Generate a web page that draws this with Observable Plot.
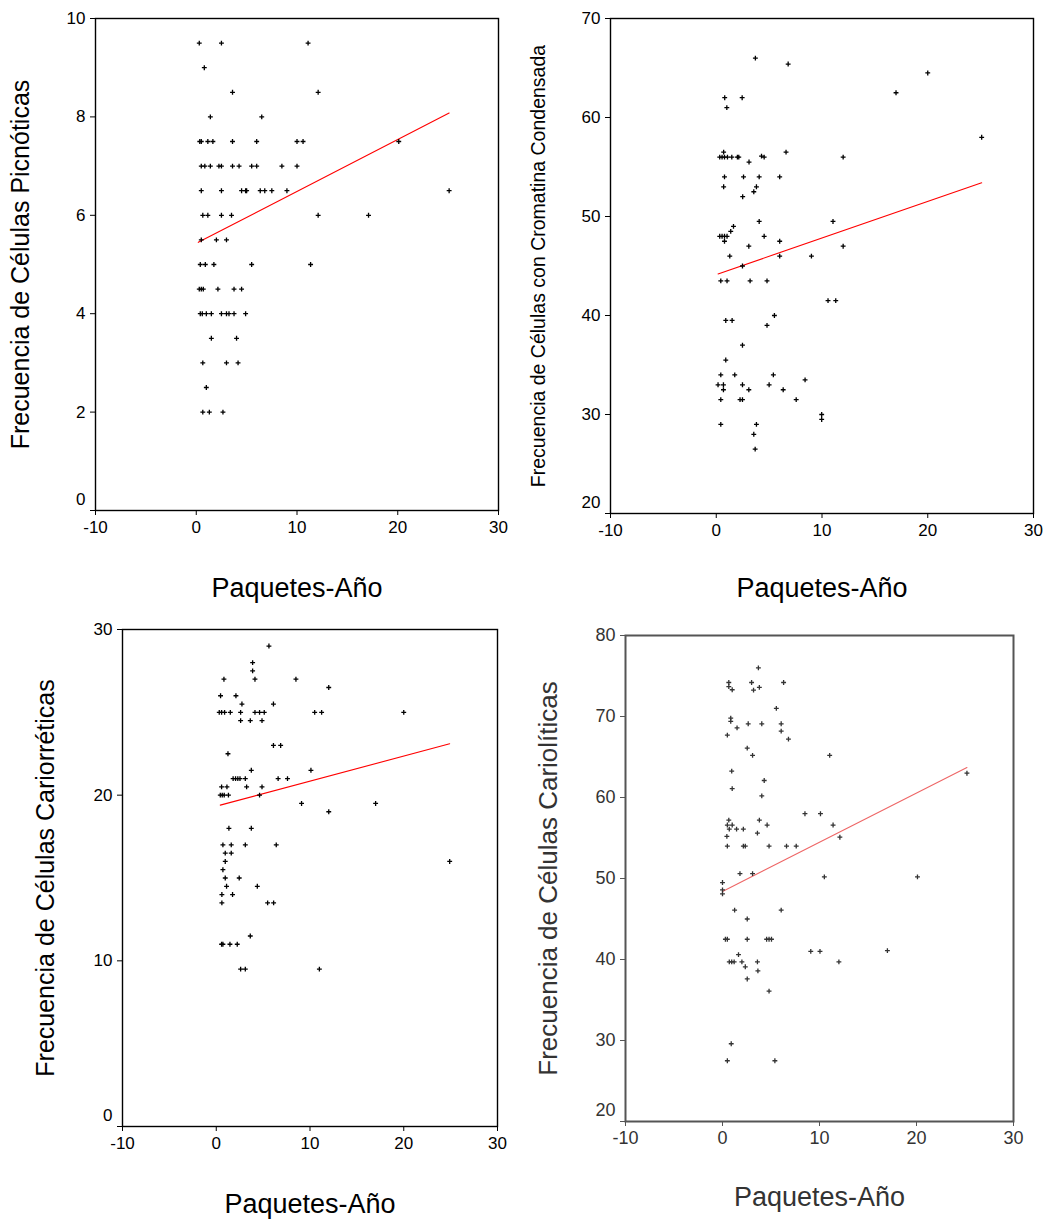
<!DOCTYPE html>
<html>
<head>
<meta charset="utf-8">
<script src="https://cdn.jsdelivr.net/npm/d3@7"></script>
<script src="https://cdn.jsdelivr.net/npm/@observablehq/plot@0.6"></script>
<style>
  html, body { margin: 0; padding: 0; background: #fff; }
  #wrap { position: relative; width: 1049px; height: 1220px; overflow: hidden; }
  #wrap > div { position: absolute; }
</style>
</head>
<body>
<div id="wrap">
  <div id="p1" style="left:0px;top:0px"></div>
  <div id="p2" style="left:525px;top:0px"></div>
  <div id="p3" style="left:0px;top:610px"></div>
  <div id="p4" style="left:525px;top:610px"></div>
</div>
<script>
// ---------- DATA ----------
const xLabel = "Paquetes-Año";
const xTicks = [-10, 0, 10, 20, 30];

// Panel 1: Células Picnóticas  [paquetes-año, frecuencia]
const picnoticasLabel = "Frecuencia de Células Picnóticas";
const picnoticasTicks = [0, 2, 4, 6, 8, 10];
const picnoticas = [
  [0.3,9.5],[2.5,9.5],[11.1,9.5],
  [0.8,9.0],
  [3.6,8.5],[12.1,8.5],
  [1.4,8.0],[6.5,8.0],
  [0.35,7.5],[0.5,7.5],[1.15,7.5],[1.65,7.5],[3.6,7.5],[6.0,7.5],[10.0,7.5],[10.6,7.5],[20.1,7.5],
  [0.5,7.0],[0.85,7.0],[1.4,7.0],[2.25,7.0],[2.5,7.0],[3.6,7.0],[4.25,7.0],[5.5,7.0],[6.0,7.0],[8.5,7.0],[10.0,7.0],
  [0.5,6.5],[2.5,6.5],[4.5,6.5],[4.9,6.5],[5.0,6.5],[6.35,6.5],[6.8,6.5],[7.5,6.5],[9.0,6.5],[25.1,6.5],
  [0.65,6.0],[1.15,6.0],[2.5,6.0],[3.5,6.0],[12.1,6.0],[17.1,6.0],
  [0.5,5.5],[2.0,5.5],[3.0,5.5],
  [0.4,5.0],[0.9,5.0],[1.75,5.0],[5.5,5.0],[11.35,5.0],
  [0.3,4.5],[0.5,4.5],[0.7,4.5],[2.15,4.5],[3.75,4.5],[4.5,4.5],
  [0.4,4.0],[0.6,4.0],[1.0,4.0],[1.5,4.0],[2.5,4.0],[3.0,4.0],[3.25,4.0],[3.75,4.0],[4.9,4.0],
  [1.5,3.5],[4.0,3.5],
  [0.65,3.0],[3.0,3.0],[4.15,3.0],
  [1.0,2.5],
  [0.65,2.0],[1.3,2.0],[2.65,2.0]
];
const picnoticasFit = [[0.2,5.45],[25.1,8.08]];

// Panel 2: Células con Cromatina Condensada
const cromatinaLabel = "Frecuencia de Células con Cromatina Condensada";
const cromatinaTicks = [20, 30, 40, 50, 60, 70];
const cromatina = [
  [3.7,66],[6.8,65.4],[20,64.5],[17,62.5],[0.8,62],[2.45,62],[1.0,61],[25.1,58],
  [0.7,56.5],[6.6,56.5],
  [0.33,56],[0.55,56],[0.78,56],[1.06,56],[1.47,56],[2.0,56],[2.13,56],[4.28,56.1],[4.53,56],[12.0,56],
  [3.1,55.5],
  [0.78,54],[2.58,54],[4.06,54],[6.0,54],
  [0.7,53],[3.8,53],[3.55,52.5],[2.5,52],
  [4.06,49.5],[11.04,49.5],
  [1.63,49],[1.37,48.5],
  [0.33,48],[0.55,48],[0.78,48],[1.02,48],[4.53,48],
  [0.78,47.5],[6.0,47.5],
  [3.08,47],[12.0,47],
  [1.28,46],[6.0,46],[9.0,46],
  [2.48,45],
  [0.43,43.5],[1.02,43.5],[3.2,43.5],[4.8,43.5],
  [10.57,41.5],[11.3,41.5],
  [5.5,40],
  [0.9,39.5],[1.5,39.5],
  [4.8,39],[2.48,37],[0.9,35.5],
  [0.43,34],[1.75,34],[5.4,34],
  [8.4,33.5],
  [0.17,33],[0.68,33],[2.48,33],[5.0,33],
  [0.68,32.5],[3.08,32.5],[6.33,32.5],
  [0.43,31.5],[2.25,31.5],[2.48,31.5],[7.56,31.5],
  [9.97,30],[9.97,29.5],
  [0.43,29],[3.8,29],
  [3.55,28],[3.68,26.5]
];
const cromatinaFit = [[0.17,44.2],[25.1,53.4]];

// Panel 3: Células Cariorréticas
const cariorreticasLabel = "Frecuencia de Células Cariorréticas";
const cariorreticasTicks = [0, 10, 20, 30];
const cariorreticas = [
  [5.62,29],[3.88,28],[3.88,27.5],
  [0.82,27],[4.13,27],[8.5,27],
  [12,26.5],
  [0.46,26],[2.1,26],
  [2.74,25.5],[6.1,25.5],
  [0.32,25],[0.57,25],[0.89,25],[1.5,25],[2.6,25],[4.13,25],[4.62,25],[5.12,25],[10.5,25],[11.24,25],[20.0,25],
  [2.6,24.5],[3.63,24.5],[4.88,24.5],
  [6.1,23],[6.87,23],
  [1.25,22.5],
  [3.74,21.5],[10.1,21.5],
  [1.8,21],[2.06,21],[2.3,21],[2.53,21],[3.1,21],[6.6,21],[7.6,21],
  [0.57,20.5],[1.14,20.5],[3.24,20.5],[4.88,20.5],
  [0.43,20],[0.64,20],[0.85,20],[1.3,20],[4.62,20],
  [9.1,19.5],[17.0,19.5],
  [12,19],
  [1.35,18],[3.74,18],
  [0.71,17],[1.6,17],[3.1,17],[6.4,17],
  [0.96,16.5],[1.6,16.5],
  [0.96,16],[24.9,16],
  [0.71,15.5],
  [0.96,15],[2.45,15],
  [1.1,14.5],[4.38,14.5],
  [0.6,14],[1.74,14],
  [0.6,13.5],[5.48,13.5],[6.12,13.5],
  [3.63,11.5],
  [0.57,11],[0.71,11],[1.46,11],[2.24,11],
  [2.6,9.5],[3.1,9.5],[11.0,9.5]
];
const cariorreticasFit = [[0.43,19.4],[24.9,23.1]];

// Panel 4: Células Cariolíticas
const carioliticasLabel = "Frecuencia de Células Cariolíticas";
const carioliticasTicks = [20, 30, 40, 50, 60, 70, 80];
const carioliticas = [
  [3.7,76],
  [0.65,74.2],[0.65,73.7],[1.0,73.3],[3.0,74.2],[6.3,74.2],[3.8,73.6],[3.2,73.25],
  [5.55,71],
  [0.85,69.8],[0.85,69.4],[1.5,68.6],[2.65,69.1],[4.05,69.1],[6.05,69.1],
  [0.5,67.7],[6.05,68.2],[6.8,67.2],
  [2.55,66.1],[3.1,65.2],[11.05,65.2],
  [0.95,63.25],[4.3,62.1],[1.0,61.1],[4.05,60.2],
  [8.5,58],[10.1,58],
  [0.65,57.2],[3.8,57.2],
  [0.5,56.6],[1.0,56.6],[0.7,56.1],[1.45,56.1],[2.15,56.1],[4.6,56.6],[11.4,56.6],[3.6,55.6],
  [0.45,55.2],[12.1,55.1],
  [0.5,54],[2.15,54],[2.35,54],[4.8,54],[6.6,54],[7.6,54],
  [1.8,50.6],[3.1,50.6],[10.5,50.2],[20.1,50.2],
  [0.0,49.5],[0.0,48.6],[0.0,48.1],
  [1.25,46.1],[6.05,46.1],[2.55,45],
  [0.3,42.5],[0.5,42.5],[2.55,42.5],[4.55,42.5],[4.8,42.5],[5.05,42.5],
  [9.1,41],[10.05,41],[17.0,41.1],
  [1.65,40.6],
  [0.7,39.7],[0.95,39.7],[1.2,39.7],[2.0,39.7],[3.6,39.7],[12.0,39.7],
  [2.35,39.1],[3.65,38.6],[2.55,37.6],[4.8,36.1],
  [0.9,29.6],[0.5,27.5],[5.4,27.5],
  [25.2,63]
];
const carioliticasFit = [[0.0,48.4],[25.2,63.7]];

// ---------- DRAWING ----------
const FONT = "'Liberation Sans', Arial, sans-serif";
const fmt = d => String(d); // ASCII hyphen-minus like the original

function panel({el, width, height, margin, yDomain, yTicks, data, fit, yLabel, yLabelSize, yLabelDx, xLabelDy,
                tickSize = 17, color = "black", frameColor = "black", frameWidth = 1.4, lineColor = "red", xLabelSize = 27}) {
  const lowest = yTicks[0];
  const chart = Plot.plot({
    width, height,
    marginLeft: margin[0], marginRight: margin[1], marginTop: margin[2], marginBottom: margin[3],
    style: {fontFamily: FONT, fontSize: tickSize + "px", color: "black", background: "white", overflow: "visible"},
    x: {domain: [-10, 30]},
    y: {domain: [yDomain[0], yDomain[1]]},
    marks: [
      Plot.axisX(xTicks, {tickSize: 5, tickPadding: 5, label: null, fill: color, stroke: frameColor, tickFormat: fmt}),
      Plot.axisY(yTicks.slice(1), {tickSize: 5, tickPadding: 5, label: null, fill: color, stroke: frameColor, tickFormat: fmt}),
      Plot.axisY([lowest], {tickSize: 5, tickPadding: 5, label: null, fill: "none", stroke: frameColor, tickFormat: () => ""}),
      Plot.axisY([lowest], {tickSize: 0, tickPadding: 10, label: null, dy: -11, fill: color, tickFormat: fmt}),
      Plot.frame({stroke: frameColor, strokeWidth: frameWidth}),
      Plot.line(fit, {x: d => d[0], y: d => d[1], stroke: lineColor, strokeWidth: 1.1}),
      Plot.dot(data, {x: d => d[0], y: d => d[1], symbol: "plus", r: 1.7, stroke: color, strokeWidth: 1.3}),
      Plot.text([yLabel], {frameAnchor: "left", rotate: -90, dx: yLabelDx, fontSize: yLabelSize, fill: color, textAnchor: "middle"}),
      Plot.text([xLabel], {frameAnchor: "bottom", dy: xLabelDy, fontSize: xLabelSize, fill: color, textAnchor: "middle"})
    ]
  });
  document.getElementById(el).appendChild(chart);
}

panel({el: "p1", width: 525, height: 610, margin: [95, 27, 18, 100],
  yDomain: [0, 10], yTicks: picnoticasTicks, data: picnoticas, fit: picnoticasFit,
  yLabel: picnoticasLabel, yLabelSize: 25, yLabelDx: -75, xLabelDy: 86});

panel({el: "p2", width: 524, height: 610, margin: [85, 16, 18, 97],
  yDomain: [20, 70], yTicks: cromatinaTicks, data: cromatina, fit: cromatinaFit,
  yLabel: cromatinaLabel, yLabelSize: 19.5, yLabelDx: -72, xLabelDy: 83});

panel({el: "p3", width: 525, height: 610, margin: [122, 28, 19, 94],
  yDomain: [0, 30], yTicks: cariorreticasTicks, data: cariorreticas, fit: cariorreticasFit,
  yLabel: cariorreticasLabel, yLabelSize: 25, yLabelDx: -77, xLabelDy: 86});

panel({el: "p4", width: 524, height: 610, margin: [100, 36, 25, 99],
  yDomain: [20, 80], yTicks: carioliticasTicks, data: carioliticas, fit: carioliticasFit,
  yLabel: carioliticasLabel, yLabelSize: 26, yLabelDx: -77, xLabelDy: 84,
  tickSize: 18, color: "#333", frameColor: "#555", frameWidth: 2, lineColor: "#e66"});
</script>
</body>
</html>
